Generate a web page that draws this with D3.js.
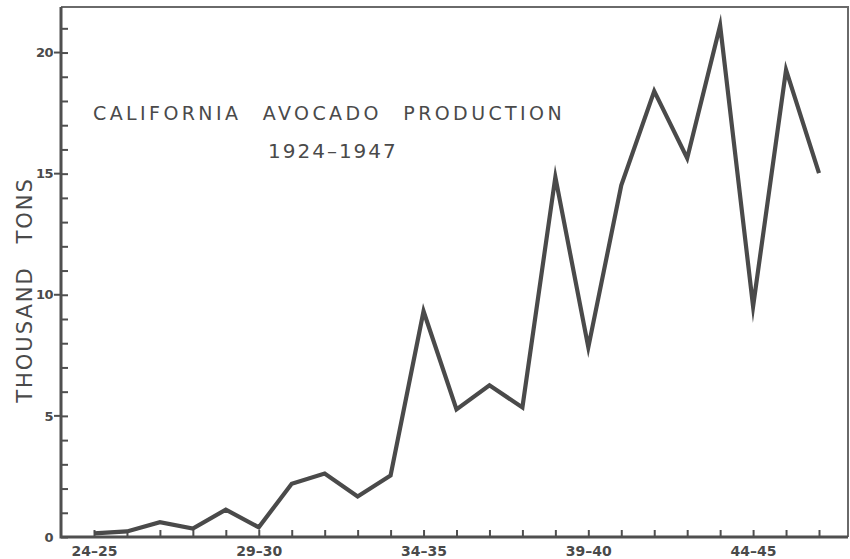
<!DOCTYPE html>
<html lang="en">
<head>
    <title>California Avocado Production</title>
    <script src="https://d3js.org/d3.v7.min.js"></script>
    <style>
        body { margin: 0; background: #fff; }
        text { font-family: "DejaVu Sans", sans-serif; fill: #4a4a4a; }
    </style>
</head>
<body>

<script>
    // seasons 1924-25 .. 1946-47, production in thousand tons
    const seasons = ['24-25','25-26','26-27','27-28','28-29','29-30','30-31','31-32',
        '32-33','33-34','34-35','35-36','36-37','37-38','38-39','39-40','40-41',
        '41-42','42-43','43-44','44-45','45-46','46-47'];
    const tons = [0.15, 0.23, 0.61, 0.35, 1.13, 0.4, 2.2, 2.62, 1.67, 2.54, 9.32,
        5.27, 6.26, 5.35, 14.86, 7.83, 14.52, 18.41, 15.64, 21.12, 9.52, 19.28, 15.02];
    const xLabels = ['24-25','29-30','34-35','39-40','44-45'];
    const yLabels = [0, 5, 10, 15, 20];
    const yMinor = d3.range(0, 22);

    const width = 850, height = 559;
    const plotLeft = 61, plotRight = 848, plotTop = 7, plotBottom = 537;
    const ink = '#4f4f4f';

    const svg = d3.select("body").append("svg")
            .attr("width", width).attr("height", height);

    const x = d3.scalePoint()
            .domain(seasons)
            .range([94, 819]);

    const y = d3.scaleLinear()
            .domain([0, 21.88])
            .range([plotBottom, plotTop]);

    // frame (top and right sides)
    svg.append("path")
            .attr("d", `M${plotLeft},${plotTop}H${plotRight}V${plotBottom}`)
            .attr("fill", "none")
            .attr("stroke", "#6a6a6a")
            .attr("stroke-width", 2);

    // x axis, ticks pointing up into the plot
    const xAxis = d3.axisBottom(x)
            .tickSize(-7)
            .tickPadding(9)
            .tickFormat(d => xLabels.includes(d) ? d.replace('-', '–') : '');

    const gx = svg.append("g")
            .attr("transform", `translate(0,${plotBottom})`)
            .call(xAxis);
    gx.select(".domain").remove();
    gx.selectAll("line").attr("stroke", ink).attr("stroke-width", 2);
    gx.selectAll("text")
            .attr("font-size", 14)
            .attr("font-weight", "bold")
            .attr("fill", ink);

    // y axis, minor ticks every thousand tons
    const yAxis = d3.axisLeft(y)
            .tickValues(yMinor)
            .tickSize(-7)
            .tickPadding(8)
            .tickFormat(d => yLabels.includes(d) ? d : '');

    const gy = svg.append("g")
            .attr("transform", `translate(${plotLeft},0)`)
            .call(yAxis);
    gy.select(".domain").remove();
    gy.selectAll("line").attr("stroke", ink).attr("stroke-width", 2);
    gy.selectAll("text")
            .attr("font-size", 13)
            .attr("font-weight", "bold")
            .attr("letter-spacing", -0.5)
            .attr("fill", ink);

    // major ticks cross the axis a little
    svg.append("g").selectAll("line")
            .data(yLabels.filter(d => d > 0)).enter()
            .append("line")
            .attr("x1", plotLeft - 7).attr("x2", plotLeft)
            .attr("y1", d => y(d)).attr("y2", d => y(d))
            .attr("stroke", ink).attr("stroke-width", 2);

    // axis lines
    svg.append("path")
            .attr("d", `M${plotLeft},${plotTop}V${plotBottom}H${plotRight}`)
            .attr("fill", "none")
            .attr("stroke", ink)
            .attr("stroke-width", 3);

    // production line
    const line = d3.line()
            .x((d, i) => x(seasons[i]))
            .y(d => y(d));

    svg.append("path")
            .datum(tons)
            .attr("d", line)
            .attr("fill", "none")
            .attr("stroke", "#4a4a4a")
            .attr("stroke-width", 4.2)
            .attr("stroke-linejoin", "miter")
            .attr("stroke-miterlimit", 10);

    // titles
    svg.append("text")
            .attr("x", 93).attr("y", 120)
            .attr("font-size", 19)
            .attr("letter-spacing", 3.4)
            .attr("word-spacing", 12)
            .text("CALIFORNIA AVOCADO PRODUCTION");

    svg.append("text")
            .attr("x", 268).attr("y", 158)
            .attr("font-size", 20)
            .attr("letter-spacing", 2)
            .text("1924–1947");

    svg.append("text")
            .attr("transform", "translate(32,290) rotate(-90)")
            .attr("text-anchor", "middle")
            .attr("font-size", 21)
            .attr("letter-spacing", 2)
            .attr("word-spacing", 14)
            .text("THOUSAND TONS");
</script>

</body>
</html>
